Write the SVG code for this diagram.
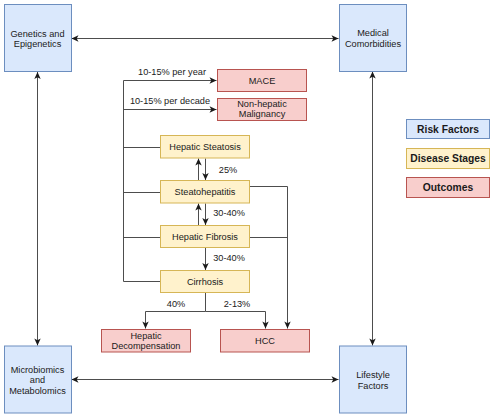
<svg xmlns="http://www.w3.org/2000/svg" width="500" height="416" viewBox="0 0 500 416">
<defs>
<marker id="arr" viewBox="0 0 8 8" refX="7.5" refY="4" markerWidth="8" markerHeight="8" markerUnits="userSpaceOnUse" orient="auto-start-reverse">
<path d="M0.5,0.8 L7.5,4 L0.5,7.2 L2.3,4 Z" fill="#1a1a1a"/>
</marker>
</defs>
<style>
text{font-family:"Liberation Sans",Arial,sans-serif;font-size:9.2px;fill:#1a1a1a;text-anchor:middle}
.lg{font-weight:bold;font-size:10.3px}
.risk{fill:#dae8fc;stroke:#6c8ebf;stroke-width:1}
.stage{fill:#fff2cc;stroke:#d6b656;stroke-width:1}
.out{fill:#f8cecc;stroke:#b85450;stroke-width:1}
.c{fill:none;stroke:#4d4d4d;stroke-width:1}
.a{marker-end:url(#arr)}
.b{marker-start:url(#arr);marker-end:url(#arr)}
.lbl{text-anchor:middle}
</style>
<rect width="500" height="416" fill="#ffffff"/>
<g id="connectors">
<path class="c b" d="M71.5,38.5 H338.5"/>
<path class="c b" d="M37.5,72 V345.5"/>
<path class="c b" d="M372.5,71.5 V345.5"/>
<path class="c b" d="M71.5,379.5 H338.5"/>
<path class="c" d="M160,281.5 H123.5 V80.5"/>
<path class="c a" d="M123.5,80.5 H216.5"/>
<path class="c a" d="M123.5,109.5 H216.5"/>
<path class="c" d="M160,147.5 H123.5"/>
<path class="c" d="M160,192.5 H123.5"/>
<path class="c" d="M160,237.5 H123.5"/>
<path class="c a" d="M205.5,158.5 V180"/>
<path class="c a" d="M198.5,180 V158.5"/>
<path class="c a" d="M205.5,203.5 V225"/>
<path class="c a" d="M198.5,225 V203.5"/>
<path class="c a" d="M205.5,247.5 V270"/>
<path class="c a" d="M250,186.5 H287.5 V328.5"/>
<path class="c" d="M250,237.5 H287.5"/>
<path class="c a" d="M205.5,292.5 V311.5 H145.5 V328.5"/>
<path class="c a" d="M205.5,311.5 H265.5 V328.5"/>
<text x="172" y="75">10-15% per year</text>
<text x="170" y="104">10-15% per decade</text>
<text x="228" y="173">25%</text>
<text x="229" y="216">30-40%</text>
<text x="229" y="261">30-40%</text>
<text x="176" y="307">40%</text>
<text x="237" y="307">2-13%</text>
</g>
<g id="genetics">
<rect class="risk" x="4.5" y="4.5" width="67" height="67"/>
<text x="37.5" y="36.5">Genetics and</text>
<text x="37.5" y="47">Epigenetics</text>
</g>
<g id="medical">
<rect class="risk" x="339.5" y="4.5" width="67" height="67"/>
<text x="373" y="36">Medical</text>
<text x="373" y="46.5">Comorbidities</text>
</g>
<g id="microbiomics">
<rect class="risk" x="4.5" y="346" width="67" height="67"/>
<text x="37.5" y="372.5">Microbiomics</text>
<text x="37.5" y="383">and</text>
<text x="37.5" y="393.5">Metabolomics</text>
</g>
<g id="lifestyle">
<rect class="risk" x="339.5" y="346" width="67" height="67"/>
<text x="373" y="378">Lifestyle</text>
<text x="373" y="388.5">Factors</text>
</g>
<g id="mace">
<rect class="out" x="217.5" y="69.5" width="89" height="22"/>
<text x="262" y="83.5">MACE</text>
</g>
<g id="nonhepatic">
<rect class="out" x="217.5" y="98.5" width="89" height="22"/>
<text x="262" y="107">Non-hepatic</text>
<text x="262" y="117">Malignancy</text>
</g>
<g id="steatosis">
<rect class="stage" x="160.5" y="135.5" width="89" height="22.5"/>
<text x="205" y="150">Hepatic Steatosis</text>
</g>
<g id="steatohepatitis">
<rect class="stage" x="160.5" y="180.5" width="89" height="22.5"/>
<text x="205" y="195">Steatohepatitis</text>
</g>
<g id="fibrosis">
<rect class="stage" x="160.5" y="225.5" width="89" height="22"/>
<text x="205" y="240">Hepatic Fibrosis</text>
</g>
<g id="cirrhosis">
<rect class="stage" x="160.5" y="270.5" width="89" height="22"/>
<text x="205" y="284.5">Cirrhosis</text>
</g>
<g id="decompensation">
<rect class="out" x="101.5" y="329.5" width="89" height="22.5"/>
<text x="146" y="339">Hepatic</text>
<text x="146" y="349">Decompensation</text>
</g>
<g id="hcc">
<rect class="out" x="220.5" y="329.5" width="89" height="22.5"/>
<text x="265" y="344">HCC</text>
</g>
<g id="legend">
<rect class="risk" x="406.5" y="119.5" width="83" height="19"/>
<text class="lg" x="448" y="132.5">Risk Factors</text>
<rect class="stage" x="406.5" y="148.5" width="83" height="20"/>
<text class="lg" x="448" y="162">Disease Stages</text>
<rect class="out" x="406.5" y="177.5" width="83" height="20"/>
<text class="lg" x="448" y="191">Outcomes</text>
</g>
</svg>
